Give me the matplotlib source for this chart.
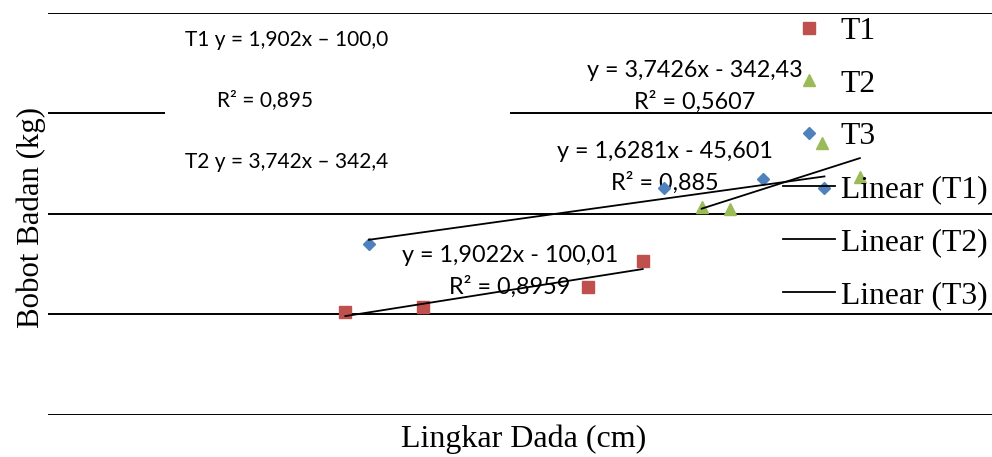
import numpy as np
import matplotlib
matplotlib.use('Agg')
import matplotlib.pyplot as plt
from matplotlib.patches import Rectangle

# chest girth (cm) vs body weight (kg) for three treatments
t1_x = [131.3, 132.95, 136.45, 137.6]
t1_y = [150.6, 151.7, 156.85, 163.3]
t2_x = [138.85, 139.45, 141.4, 142.2]
t2_y = [176.6, 176.1, 192.65, 184.05]
t3_x = [131.8, 138.05, 140.15, 141.45]
t3_y = [167.4, 181.3, 183.65, 181.3]

names = ['T1', 'T2', 'T3']
eq_labels = ['y = 1,9022x - 100,01\nR² = 0,8959',
             'y = 3,7426x - 342,43\nR² = 0,5607',
             'y = 1,6281x - 45,601\nR² = 0,885']
box_lines = ['T1 y = 1,902x – 100,0', 'R² = 0,895', 'T2 y = 3,742x – 342,4']

serif = 'Liberation Serif'
sans = 'Lato'

fig = plt.figure(figsize=(9.92, 4.57), dpi=100)
ax = fig.add_axes([48 / 992, 1 - 414.7 / 457, 944 / 992, 402 / 457])

series = [(t1_x, t1_y, 's', '#C0504D', 9.0),
          (t2_x, t2_y, '^', '#9BBB59', 8.3),
          (t3_x, t3_y, 'D', '#4F81BD', 6.0)]

pts = []
for (xs, ys, mk, col, ms), name in zip(series, names):
    h, = ax.plot(xs, ys, mk, color=col, ms=ms, mec=col, label=name, zorder=3)
    pts.append(h)

fits = []
for (xs, ys, mk, col, ms), name in zip(series, names):
    m, b = np.polyfit(xs, ys, 1)
    xx = np.array([min(xs), max(xs)])
    h, = ax.plot(xx, m * xx + b, color='black', lw=1.3, label='Linear (%s)' % name, zorder=4)
    fits.append(h)

# trendline equations
ax.text(134.79, 160.6, eq_labels[0], ha='center', va='center', fontsize=16.8,
        family=sans, linespacing=1.55, zorder=2)
ax.text(138.70, 206.6, eq_labels[1], ha='center', va='center', fontsize=16.8,
        family=sans, linespacing=1.55, zorder=2)
ax.text(138.07, 186.5, eq_labels[2], ha='center', va='center', fontsize=16.8,
        family=sans, linespacing=1.55, zorder=2)

ax.set_xlim(125, 145)
ax.set_ylim(125, 225)
ax.set_yticks(np.arange(125, 226, 25))
ax.grid(True, axis='y', color='black', lw=1.4)
ax.tick_params(length=0, labelleft=False, labelbottom=False)
for s in ax.spines.values():
    s.set_visible(False)

ax.set_xlabel('Lingkar Dada (cm)', family=serif, fontsize=23, va='top')
ax.xaxis.set_label_coords(0.504, -0.024)
ax.set_ylabel('Bobot Badan (kg)', family=serif, fontsize=22.2)
ax.yaxis.set_label_coords(-0.002, 0.49)

ax.legend(handles=pts + fits, loc='upper left', bbox_to_anchor=(783 / 992, 1 - 16.5 / 457),
          bbox_transform=fig.transFigure, frameon=False, borderpad=0, borderaxespad=0,
          prop={'family': serif, 'size': 22.8}, handlelength=1.64, handletextpad=0.18,
          labelspacing=0.75)

# white text box with the summary equations
fig.patches.append(Rectangle((165 / 992, 1 - 205 / 457), 345 / 992, 185 / 457,
                             transform=fig.transFigure, facecolor='white',
                             edgecolor='none', zorder=1))
fig.text(185 / 992, 1 - 40 / 457, box_lines[0], ha='left', va='center', fontsize=15, family=sans)
fig.text(217 / 992, 1 - 100 / 457, box_lines[1], ha='left', va='center', fontsize=15, family=sans)
fig.text(185 / 992, 1 - 161.7 / 457, box_lines[2], ha='left', va='center', fontsize=15, family=sans)

fig.savefig('out.png', dpi=100)
plt.close(fig)
